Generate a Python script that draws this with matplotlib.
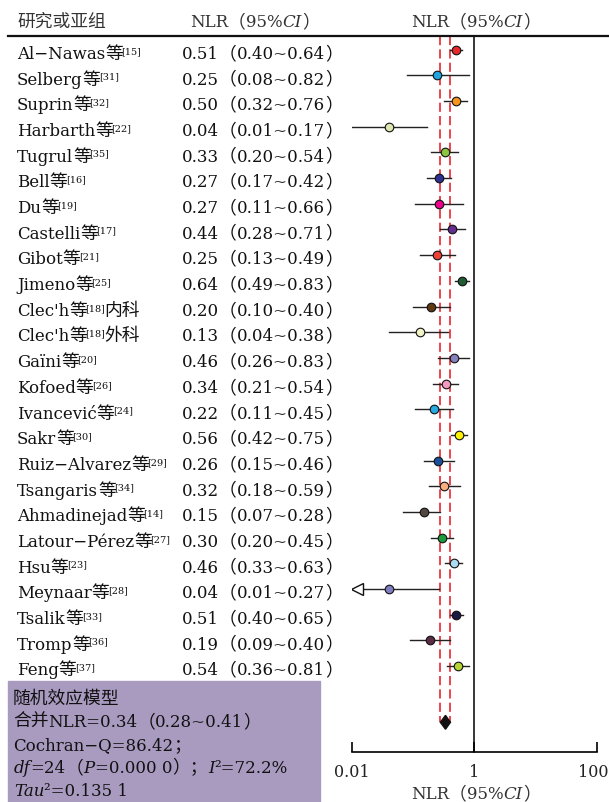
import matplotlib.pyplot as plt
from matplotlib.lines import Line2D
from matplotlib.patches import Rectangle
import matplotlib.transforms as mtransforms

W, H = 609, 803
SERIF = ['DejaVu Serif', 'Noto Sans CJK SC']
CJK = ['Noto Sans CJK SC', 'DejaVu Serif']

# study data
studies = ['Al−Nawas', 'Selberg', 'Suprin', 'Harbarth', 'Tugrul', 'Bell', 'Du',
           'Castelli', 'Gibot', 'Jimeno', "Clec'h", "Clec'h", 'Gaïni', 'Kofoed',
           'Ivancević', 'Sakr', 'Ruiz−Alvarez', 'Tsangaris', 'Ahmadinejad',
           'Latour−Pérez', 'Hsu', 'Meynaar', 'Tsalik', 'Tromp', 'Feng']
refs = ['15', '31', '32', '22', '35', '16', '19', '17', '21', '25', '18', '18',
        '20', '26', '24', '30', '29', '34', '14', '27', '23', '28', '33', '36', '37']
suffixes = [''] * 10 + ['内科', '外科'] + [''] * 13
nlr = [0.51, 0.25, 0.50, 0.04, 0.33, 0.27, 0.27, 0.44, 0.25, 0.64, 0.20, 0.13,
       0.46, 0.34, 0.22, 0.56, 0.26, 0.32, 0.15, 0.30, 0.46, 0.04, 0.51, 0.19, 0.54]
lower = [0.40, 0.08, 0.32, 0.01, 0.20, 0.17, 0.11, 0.28, 0.13, 0.49, 0.10, 0.04,
         0.26, 0.21, 0.11, 0.42, 0.15, 0.18, 0.07, 0.20, 0.33, 0.01, 0.40, 0.09, 0.36]
upper = [0.64, 0.82, 0.76, 0.17, 0.54, 0.42, 0.66, 0.71, 0.49, 0.83, 0.40, 0.38,
         0.83, 0.54, 0.45, 0.75, 0.46, 0.59, 0.28, 0.45, 0.63, 0.27, 0.65, 0.40, 0.81]
truncated = [s == 'Meynaar' for s in studies]
colors = ['#e8262d', '#1ea5e0', '#f7941d', '#dce8b0', '#8cc63f', '#2e3192', '#ec008c',
          '#662d91', '#ef4136', '#1f5c32', '#603913', '#f3f3c8', '#8781bd', '#f49ac1',
          '#27aae1', '#fff200', '#1c4f9c', '#f9ad81', '#534741', '#1e9a3c', '#abdcf3',
          '#7f7fc0', '#1b1a45', '#5b2c45', '#b8d432']
xticks = [0.01, 1, 100]
xtick_labels = ['0.01', '1', '100']

pooled_nlr, pooled_lo, pooled_hi = 0.34, 0.28, 0.41

# layout in pixels
row0, step = 50.7, 25.68
n = len(studies)
top_row = (37 - row0) / step
pooled_row = (723.3 - row0) / step
axis_row = (752.7 - row0) / step

fig = plt.figure(figsize=(W / 100, H / 100), dpi=100)
ax = fig.add_axes([351.7 / W, 0, (596.7 - 351.7) / W, 1])
ax.set_xscale('log')
ax.set_xlim(0.01, 100)
ax.set_ylim((H - row0) / step, -row0 / step)
ax.patch.set_visible(False)
for s in ['top', 'left', 'right']:
    ax.spines[s].set_visible(False)
ax.spines['bottom'].set_position(('data', axis_row))
ax.spines['bottom'].set_linewidth(1.2)
ax.set_yticks([])
ax.set_xticks(xticks)
ax.set_xticks([], minor=True)
ax.set_xticklabels([])
ax.tick_params(axis='x', direction='in', length=7, width=1.2)
for t, lab in zip(xticks, xtick_labels):
    shift = -2.5 if t == xticks[-1] else 0
    ax.annotate(lab, xy=(t, axis_row), xycoords='data', xytext=(shift, -8),
                textcoords='offset points', ha='center', va='top', fontsize=11.5,
                family=SERIF, color='#222222', annotation_clip=False)

# reference lines
ax.plot([1, 1], [top_row, axis_row], color='black', lw=1.1, zorder=1)
for v in (pooled_lo, pooled_hi):
    ax.plot([v, v], [top_row, pooled_row], color='#e8262d', lw=1.2,
            dashes=(5.5, 2.5), zorder=1)

rows = list(range(n))
for i in rows:
    ax.plot([lower[i], upper[i]], [i, i], color='#222222', lw=1.0, zorder=2)
    ax.plot(nlr[i], i, 'o', ms=6.2, mfc=colors[i], mec='#111111', mew=0.8, zorder=3)
    if truncated[i]:
        tr = mtransforms.offset_copy(ax.transData, fig=fig, x=5, y=0, units='dots')
        ax.plot(lower[i], i, '<', ms=8, mfc='white', mec='#111111', mew=1.0,
                transform=tr, zorder=3)

ax.fill([pooled_lo, pooled_nlr, pooled_hi, pooled_nlr],
        [pooled_row, pooled_row - 0.27, pooled_row, pooled_row + 0.27],
        color='#111111', zorder=3)


def rich(x_px, base_px, pieces, color='#111111'):
    prev = None
    for txt, size, style, rise, dx, fam in pieces:
        y = 1 - (base_px - rise) / H
        if prev is None:
            xy, coords = (x_px / W, y), 'figure fraction'
        else:
            xy, coords = (1, y), (prev, 'figure fraction')
        prev = ax.annotate(txt, xy=xy, xycoords=coords, xytext=(dx, 0),
                           textcoords='offset points', ha='left', va='baseline',
                           fontsize=size, style=style, family=fam, color=color,
                           annotation_clip=False)
    return prev


FS, CS, SUP = 12, 12.8, 7


def plain(t, dx=0):
    return (t, FS, 'normal', 0, dx, SERIF)


def ital(t, dx=0):
    return (t, FS, 'italic', 0, dx, SERIF)


def cjk(t, dx=0):
    return (t, CS, 'normal', 0, dx, CJK)


def sup(t, dx=-1.2):
    return (t, SUP, 'normal', 5, dx, SERIF)


header = [plain('NLR'), cjk('（'), plain('95%'), ital('CI'), cjk('）')]

# headers
rich(17, 27, [cjk('研究或亚组')], color='#333333')
rich(190, 27, header, color='#333333')
rich(411, 27, header, color='#333333')
fig.add_artist(Line2D([8 / W, 1], [1 - 37 / H] * 2, transform=fig.transFigure,
                      color='#111111', lw=1.6))

# study rows
for i in rows:
    base = row0 + i * step + 8.3
    pieces = [plain(studies[i]), cjk('等'), sup('[' + refs[i] + ']')]
    if suffixes[i]:
        pieces.append(cjk(suffixes[i], -0.5))
    rich(17, base, pieces)
    rich(182, base, [plain(f'{nlr[i]:.2f}'), cjk('（'), plain(f'{lower[i]:.2f}~{upper[i]:.2f}'),
                     cjk('）')])

# summary box
fig.add_artist(Rectangle((8 / W, 0), (320 - 8) / W, (H - 682) / H,
                         transform=fig.transFigure, color='#a99bc0', zorder=-1))
rich(13, 704, [cjk('随机效应模型')])
rich(13, 727, [cjk('合并'), plain(f'NLR={pooled_nlr:.2f}'), cjk('（'),
               plain(f'{pooled_lo:.2f}~{pooled_hi:.2f}'), cjk('）')])
rich(13, 750, [plain('Cochran−Q=86.42'), cjk('；')])
rich(14, 773, [ital('df'), plain('=24'), cjk('（'), ital('P'), plain('=0.000 0'),
               cjk('）；'), ital('I'), plain('²=72.2%')])
rich(14, 796, [ital('Tau'), plain('²=0.135 1')])

# x axis title
rich(411, 799, header, color='#333333')

fig.savefig('out.png', dpi=100)
